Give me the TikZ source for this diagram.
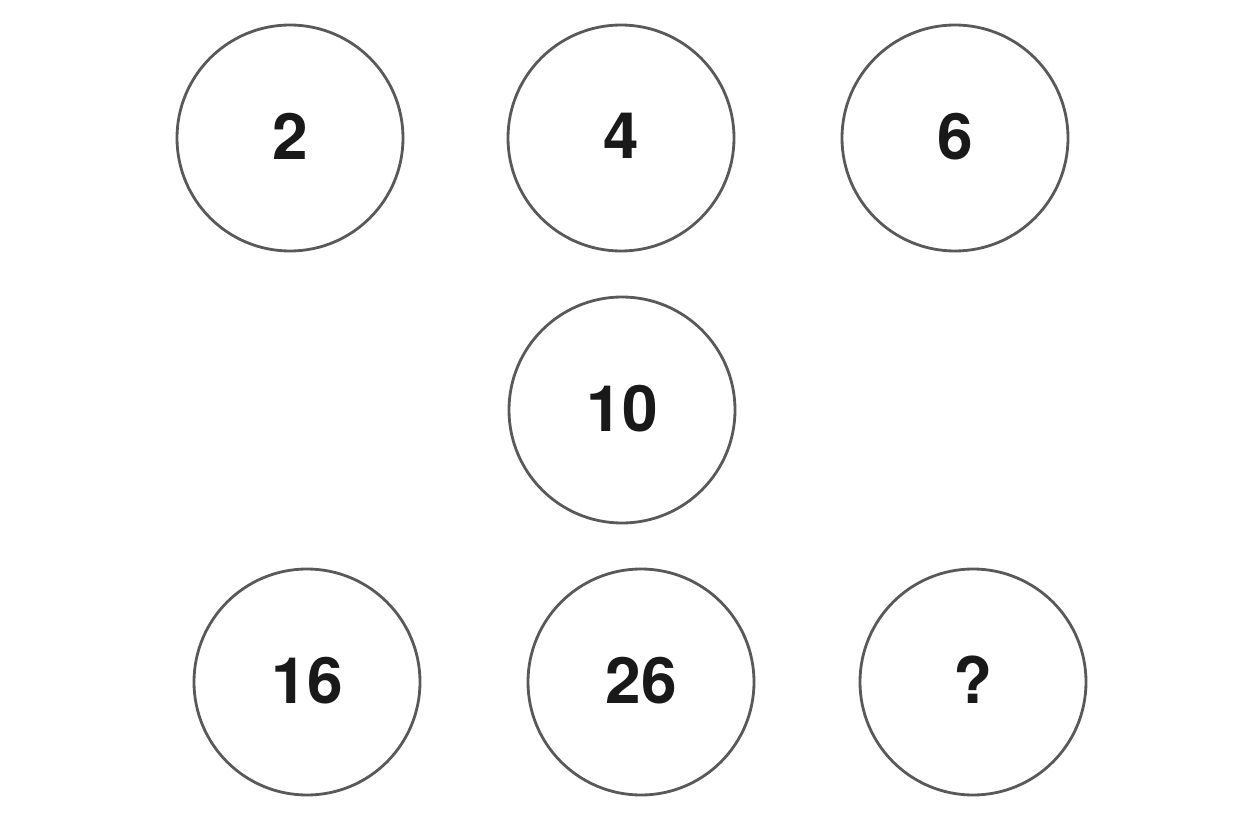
\documentclass[tikz,border=0pt]{standalone}
\usepackage{fontspec}
\setsansfont{TeX Gyre Heros}
\usepackage{tikz}

\newcommand{\cnum}[1]{\raisebox{4pt}{#1}}

\tikzset{
  numcircle/.style={circle, draw=black!65, line width=2.8pt, minimum size=226pt,
    inner sep=0pt, font=\sffamily\bfseries\fontsize{64}{70}\selectfont, text=black!90}
}

\begin{document}
\begin{tikzpicture}[x=1pt,y=-1pt]
        % Frame
        \useasboundingbox (0,0) rectangle (1248,832);
        % Top row
        \node[numcircle] (two) at (290,138) {\cnum{2}};
        \node[numcircle] (four) at (621,138) {\cnum{4}};
        \node[numcircle] (six) at (955,138) {\cnum{6}};
        % Middle
        \node[numcircle] (ten) at (622,410) {\cnum{10}};
        % Bottom row
        \node[numcircle] (sixteen) at (307,682) {\cnum{16}};
        \node[numcircle] (twentysix) at (641,682) {\cnum{26}};
        \node[numcircle] (unknown) at (973,682) {\cnum{?}};
    \end{tikzpicture}
\end{document}
